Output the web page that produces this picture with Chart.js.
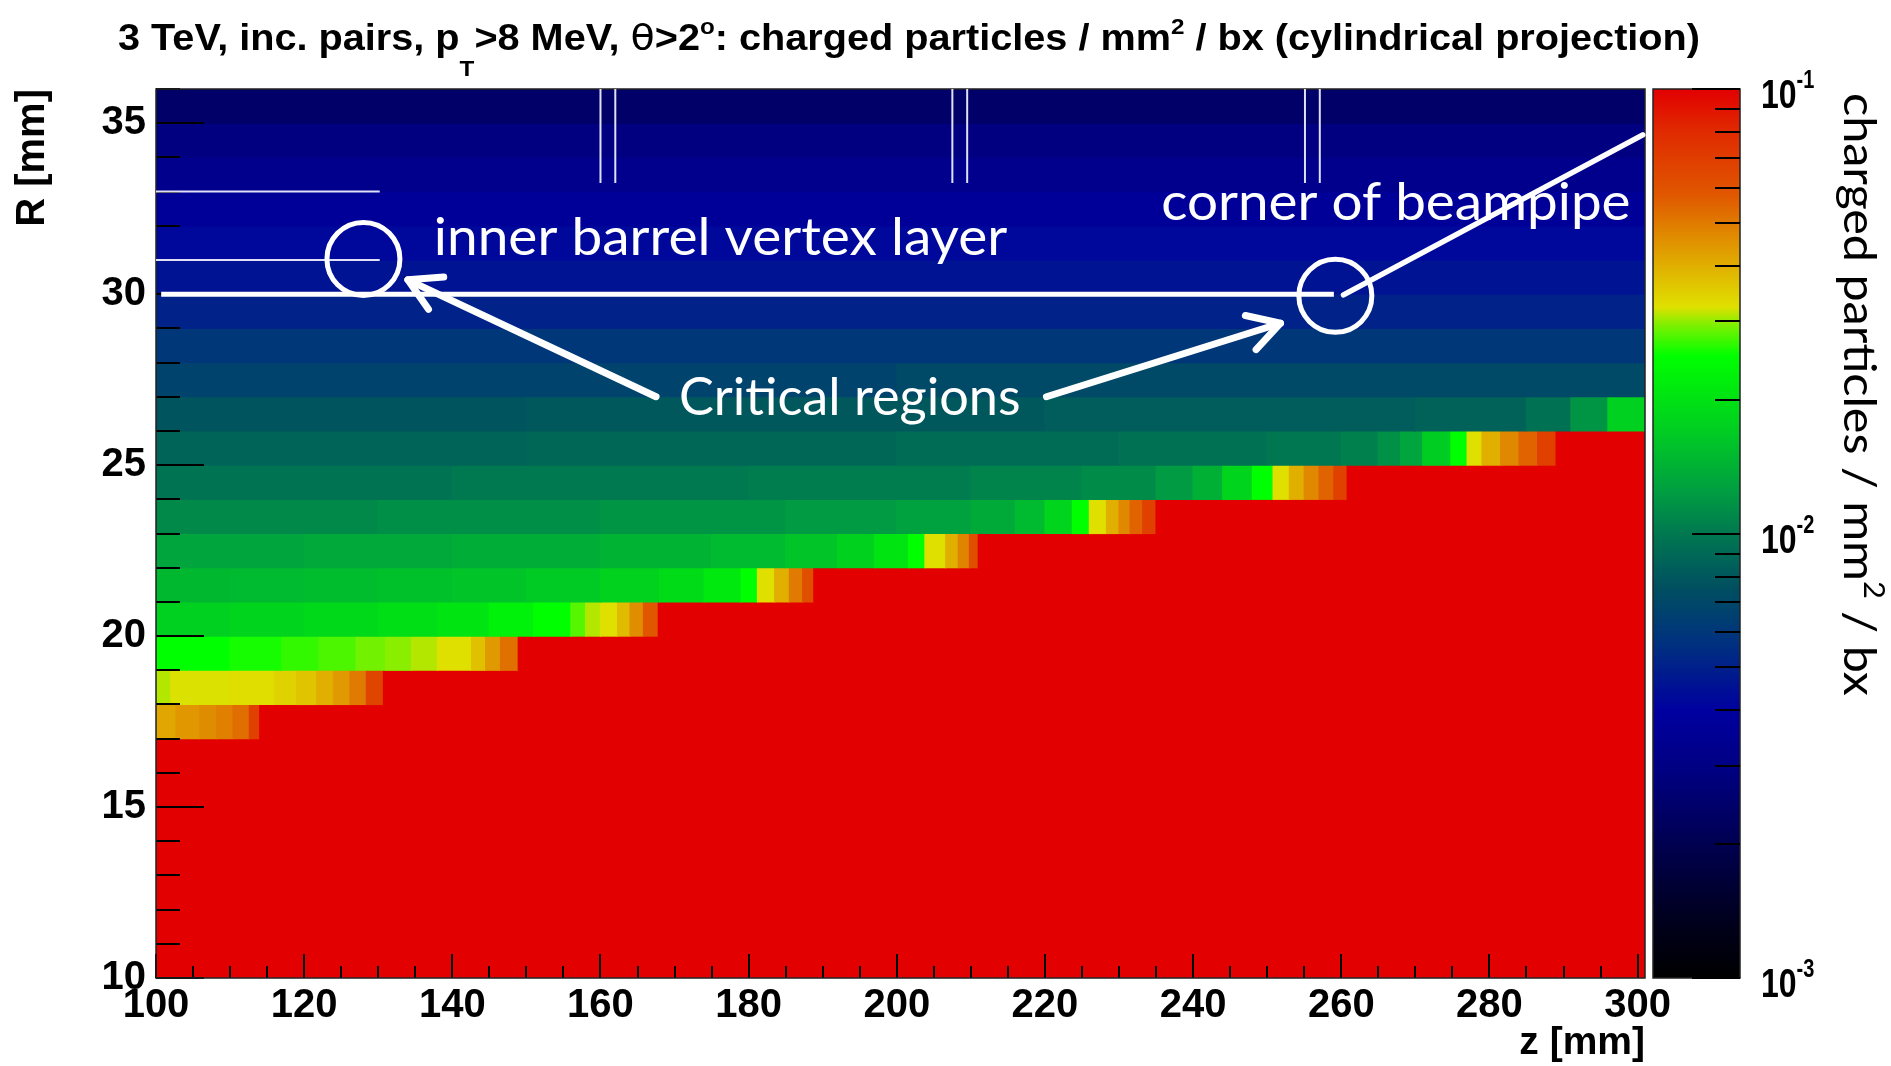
<!DOCTYPE html>
<html>
<head>
<meta charset="utf-8">
<script src="https://cdn.jsdelivr.net/npm/chart.js@4.4.1/dist/chart.umd.min.js"></script>
<style>
html,body{margin:0;padding:0;background:#ffffff;}
#wrap{width:1891px;height:1066px;position:relative;overflow:hidden;}
canvas{display:block;}
</style>
</head>
<body>
<div id="wrap"><canvas id="c" width="1891" height="1066"></canvas></div>
<script>
// ---------------- DATA ----------------
const zRange = [100, 301];
const rRange = [10, 36];
const xTickValues = [100, 120, 140, 160, 180, 200, 220, 240, 260, 280, 300];
const yTickValues = [10, 15, 20, 25, 30, 35];
const colorbarRange = [0.001, 0.1];
const colorbarMajor = [0.001, 0.01, 0.1];
const colorbarLabels = [["10", "-3"], ["10", "-2"], ["10", "-1"]];
const OVER = 1; // above colour scale (beam-pipe shadow, drawn red)

// R bins (1 mm): each row is a list of [zStart, zEnd, charged particles / mm^2 / bx]
const rowLowEdges = [10,11,12,13,14,15,16,17,18,19,20,21,22,23,24,25,26,27,28,29,30,31,32,33,34,35];
const r10 = [[100, 301, OVER]];
const r11 = [[100, 301, OVER]];
const r12 = [[100, 301, OVER]];
const r13 = [[100, 301, OVER]];
const r14 = [[100, 301, OVER]];
const r15 = [[100, 301, OVER]];
const r16 = [[100, 301, OVER]];
const r17 = [[100,102.7,0.0413],[102.7,105.9,0.0443],[105.9,108.2,0.0465],[108.2,110.4,0.049],[110.4,112.6,0.0525],[112.6,114,0.068],[114,301,OVER]];
const r18 = [[100,102,0.031],[102,110,0.0322],[110,116,0.0328],[116,119,0.0345],[119,121.7,0.0365],[121.7,124,0.04],[124,126.2,0.044],[126.2,128.4,0.05],[128.4,130.7,0.066],[130.7,301,OVER]];
const r19 = [[100,110,0.0251],[110,117,0.0258],[117,122,0.0268],[122,127,0.0276],[127,131,0.029],[131,134.5,0.0298],[134.5,138,0.031],[138,142.6,0.0324],[142.6,144.5,0.037],[144.5,146.5,0.044],[146.5,148.9,0.052],[148.9,301,OVER]];
const r20 = [[100,110,0.0174],[110,120,0.0179],[120,130,0.0186],[130,138,0.0194],[138,145,0.0205],[145,151,0.0225],[151,156,0.0251],[156,158,0.028],[158,160,0.031],[160,162.3,0.0324],[162.3,164,0.038],[164,165.8,0.046],[165.8,167.8,0.058],[167.8,301,OVER]];
const r21 = [[100,110,0.0148],[110,120,0.015],[120,130,0.0153],[130,140,0.0157],[140,150,0.016],[150,160,0.0167],[160,168,0.0177],[168,174,0.019],[174,179,0.0212],[179,181.2,0.0251],[181.2,183.5,0.0324],[183.5,185.5,0.04],[185.5,187.3,0.05],[187.3,188.8,0.062],[188.8,301,OVER]];
const r22 = [[100,120,0.013],[120,140,0.0134],[140,160,0.0138],[160,175,0.0143],[175,185,0.015],[185,192,0.016],[192,197,0.0175],[197,201.6,0.0205],[201.6,203.8,0.0251],[203.8,206.6,0.0324],[206.6,208.3,0.04],[208.3,209.8,0.048],[209.8,211,0.062],[211,301,OVER]];
const r23 = [[100,130,0.011],[130,160,0.0114],[160,185,0.0118],[185,200,0.0122],[200,210,0.0127],[210,216,0.0135],[216,220,0.015],[220,223.7,0.018],[223.7,226,0.0251],[226,228.3,0.0324],[228.3,230,0.04],[230,231.5,0.047],[231.5,233.2,0.055],[233.2,235,0.068],[235,301,OVER]];
const r24 = [[100,140,0.0097],[140,180,0.01],[180,210,0.0103],[210,225,0.0107],[225,235,0.0112],[235,240,0.0122],[240,244,0.014],[244,248,0.018],[248,250.8,0.0251],[250.8,253,0.0324],[253,255,0.04],[255,257,0.047],[257,259,0.055],[259,260.8,0.068],[260.8,301,OVER]];
const r25 = [[100,150,0.0087],[150,200,0.0089],[200,230,0.0092],[230,250,0.0095],[250,260,0.0099],[260,265,0.0105],[265,268,0.0115],[268,271,0.013],[271,274.8,0.017],[274.8,277,0.0251],[277,279,0.0324],[279,281.5,0.04],[281.5,284,0.047],[284,286.5,0.055],[286.5,289,0.068],[289,301,OVER]];
const r26 = [[100,150,0.0078],[150,220,0.008],[220,270,0.0083],[270,285,0.0086],[285,291,0.0095],[291,296,0.0118],[296,301,0.0174]];
const r27 = [[100,200,0.0067],[200,301,0.0071]];
const r28 = [[100,301,0.006]];
const r29 = [[100,301,0.0051]];
const r30 = [[100,301,0.0046]];
const r31 = [[100,301,0.0042]];
const r32 = [[100,301,0.0037]];
const r33 = [[100,301,0.0033]];
const r34 = [[100,301,0.0029]];
const r35 = [[100,301,0.0024]];
const rowSegments = [r10,r11,r12,r13,r14,r15,r16,r17,r18,r19,r20,r21,r22,r23,r24,r25,r26,r27,r28,r29,r30,r31,r32,r33,r34,r35];

// Hand-drawn annotations, in data units (z [mm], R [mm])
const thinMarks = [
  [[100, 33], [130.2, 33]], [[100, 31], [130.2, 31]],
  [[160, 36], [160, 33.25]], [[162, 36], [162, 33.25]],
  [[207.5, 36], [207.5, 33.25]], [[209.5, 36], [209.5, 33.25]],
  [[255.1, 36], [255.1, 33.25]], [[257.1, 36], [257.1, 33.25]]
];
const layerLine = [[100.7, 30], [259, 30]];
const beampipeLine = [[260.3, 29.98], [300.7, 34.66]];
const circleCentres = [[128.0, 31.03], [259.2, 29.95]];
const arrowTails = [[167.5, 27.0], [220.2, 27.0]];
const arrowTips = [[134.0, 30.42], [251.8, 29.15]];
const noteTexts = ["inner barrel vertex layer", "corner of beampipe", "Critical regions"];
const noteStart = [[137.5, 31.15], [235.7, 32.17], [170.6, 26.47]];
const noteEndZ = [214.9, 299.05, 216.7];

// ---------------- COLOUR PALETTE ----------------
const palette = [
  [0.00, '#000000'], [0.07, '#000020'], [0.15, '#000050'], [0.23, '#000080'],
  [0.30, '#0000a0'], [0.375, '#003080'], [0.44, '#005060'], [0.50, '#007850'],
  [0.55, '#00a040'], [0.62, '#00d020'], [0.70, '#00ff00'], [0.735, '#80f000'],
  [0.755, '#e0e000'], [0.83, '#e09000'], [0.88, '#e05800'], [0.955, '#e02800'],
  [1.00, '#e20000']
];
function hex2rgb(h) { return [parseInt(h.substr(1,2),16), parseInt(h.substr(3,2),16), parseInt(h.substr(5,2),16)]; }
const palRGB = palette.map(p => [p[0], hex2rgb(p[1])]);
function colourFor(v) {
  const lo = Math.log10(colorbarRange[0]), hi = Math.log10(colorbarRange[1]);
  let t = (Math.log10(v) - lo) / (hi - lo);
  t = Math.max(0, Math.min(1, t));
  for (let i = 1; i < palRGB.length; i++) {
    if (t <= palRGB[i][0]) {
      const a = palRGB[i-1], b = palRGB[i];
      const f = (t - a[0]) / (b[0] - a[0]);
      const c = a[1].map((ch, k) => Math.round(ch + (b[1][k] - ch) * f));
      return 'rgb(' + c.join(',') + ')';
    }
  }
  const c = palRGB[palRGB.length-1][1];
  return 'rgb(' + c.join(',') + ')';
}

// ---------------- BUILD CELLS ----------------
const cells = [];
const cellColours = [];
rowSegments.forEach((segs, i) => {
  const r0 = rowLowEdges[i];
  segs.forEach(s => {
    cells.push({ y: r0 + 0.5, x: [s[0], s[1]] });
    cellColours.push(colourFor(s[2]));
  });
});

// ---------------- DRAWING HELPERS ----------------
const ROOTFONT = '"Liberation Sans", Arial, Helvetica, sans-serif';
const NOTEFONT = 'Lato, "Open Sans", sans-serif';

function fitText(ctx, text, x, y, width, font) {
  ctx.font = font;
  const w = ctx.measureText(text).width;
  ctx.save();
  ctx.translate(x, y);
  ctx.scale(width / w, 1);
  ctx.fillText(text, 0, 0);
  ctx.restore();
}

function drawRuns(ctx, runs, x, y, targetWidth, sxFixed) {
  let total = 0;
  runs.forEach(r => { ctx.font = r.f; total += ctx.measureText(r.t).width; });
  const sx = sxFixed || (targetWidth / total);
  ctx.save();
  ctx.translate(x, y);
  ctx.scale(sx, 1);
  let cx = 0;
  runs.forEach(r => {
    ctx.font = r.f;
    ctx.fillText(r.t, cx, r.dy || 0);
    cx += ctx.measureText(r.t).width;
  });
  ctx.restore();
}

const overlay = {
  id: 'overlay',
  afterDatasetsDraw(chart) {
    const { ctx, chartArea: ca, scales } = chart;
    const xs = scales.x, ys = scales.y, cb = scales.cb;
    const px = z => xs.getPixelForValue(z);
    const py = r => ys.getPixelForValue(r);
    ctx.save();

    // --- axis tick marks (inward) ---
    ctx.strokeStyle = '#000';
    ctx.lineWidth = 2;
    ctx.beginPath();
    for (let r = rRange[0]; r <= rRange[1]; r++) {
      const len = (r % 5 === 0) ? 48 : 24;
      const yy = Math.round(py(r));
      ctx.moveTo(ca.left, yy); ctx.lineTo(ca.left + len, yy);
    }
    for (let z = 100; z <= 300; z += 5) {
      const len = (z % 20 === 0) ? 24 : 12;
      const xx = Math.round(px(z));
      ctx.moveTo(xx, ca.bottom); ctx.lineTo(xx, ca.bottom - len);
    }
    ctx.stroke();

    // --- frame ---
    ctx.lineWidth = 1.5;
    ctx.strokeStyle = '#222';
    ctx.strokeRect(ca.left, ca.top, ca.right - ca.left, ca.bottom - ca.top);

    // --- colour bar ---
    const cbL = cb.left + 8, cbR = cb.left + 95;
    for (let yy = Math.floor(cb.top); yy < Math.ceil(cb.bottom); yy++) {
      const v = cb.getValueForPixel(yy + 0.5);
      ctx.fillStyle = colourFor(v);
      ctx.fillRect(cbL, yy, cbR - cbL, 1);
    }
    ctx.strokeStyle = '#222';
    ctx.lineWidth = 1.5;
    ctx.strokeRect(cbL, cb.top, cbR - cbL, cb.bottom - cb.top);
    ctx.strokeStyle = '#000';
    ctx.lineWidth = 2;
    ctx.beginPath();
    for (let d = 0.001; d < 0.11; d *= 10) {
      for (let m = 1; m <= 9; m++) {
        const v = d * m;
        if (v > 0.1000001) break;
        const yy = Math.round(cb.getPixelForValue(v));
        const len = (m === 1) ? 48 : 25;
        ctx.moveTo(cbR, yy); ctx.lineTo(cbR - len, yy);
      }
    }
    ctx.stroke();

    // colour bar labels 10^n
    ctx.fillStyle = '#000';
    ctx.textBaseline = 'alphabetic';
    ctx.textAlign = 'left';
    colorbarMajor.forEach((v, i) => {
      const yy = cb.getPixelForValue(v);
      drawRuns(ctx, [
        { t: colorbarLabels[i][0], f: 'bold 40px ' + ROOTFONT },
        { t: colorbarLabels[i][1], f: 'bold 25px ' + ROOTFONT, dy: -20 }
      ], cb.left + 116, yy + 19, 0, 0.8);
    });

    // colour bar title (rotated)
    ctx.save();
    ctx.translate(cb.left + 199, cb.top + 4);
    ctx.rotate(Math.PI / 2);
    ctx.fillStyle = '#000';
    drawRuns(ctx, [
      { t: 'charged particles / mm', f: '44px ' + NOTEFONT },
      { t: '2', f: '28px ' + NOTEFONT, dy: -20 },
      { t: ' / bx', f: '44px ' + NOTEFONT }
    ], 0, 0, 603);
    ctx.restore();

    // --- chart title ---
    ctx.fillStyle = '#000';
    const tf = 'bold 36px ' + ROOTFONT;
    const sf = 'bold 22px ' + ROOTFONT;
    drawRuns(ctx, [
      { t: '3 TeV, inc. pairs, p', f: tf },
      { t: 'T', f: sf, dy: 26 },
      { t: '>8 MeV, ', f: tf },
      { t: 'θ', f: '36px "DejaVu Sans", sans-serif' },
      { t: '>2', f: tf },
      { t: 'o', f: sf, dy: -16 },
      { t: ': charged particles / mm', f: tf },
      { t: '2', f: sf, dy: -16 },
      { t: ' / bx (cylindrical projection)', f: tf }
    ], 118, 50, 1582);

    // --- white annotations ---
    ctx.save();
    ctx.beginPath();
    ctx.rect(ca.left, ca.top, ca.right - ca.left + 2, ca.bottom - ca.top);
    ctx.clip();
    ctx.strokeStyle = 'rgba(235,235,255,0.95)';
    ctx.lineWidth = 2;
    ctx.beginPath();
    thinMarks.forEach(seg => {
      ctx.moveTo(px(seg[0][0]), py(seg[0][1]));
      ctx.lineTo(px(seg[1][0]), py(seg[1][1]));
    });
    ctx.stroke();
    ctx.strokeStyle = '#ffffff';
    ctx.lineWidth = 5;
    ctx.beginPath();
    ctx.moveTo(px(layerLine[0][0]), py(layerLine[0][1]));
    ctx.lineTo(px(layerLine[1][0]), py(layerLine[1][1]));
    ctx.stroke();
    ctx.lineWidth = 5.5;
    ctx.lineCap = 'round';
    ctx.beginPath();
    ctx.moveTo(px(beampipeLine[0][0]), py(beampipeLine[0][1]));
    ctx.lineTo(px(beampipeLine[1][0]), py(beampipeLine[1][1]));
    ctx.stroke();
    ctx.lineWidth = 5;
    circleCentres.forEach(c => {
      ctx.beginPath();
      ctx.arc(px(c[0]), py(c[1]), 36.5, 0, Math.PI * 2);
      ctx.stroke();
    });
    ctx.lineWidth = 7;
    ctx.lineJoin = 'round';
    arrowTails.forEach((t, i) => {
      const x0 = px(t[0]), y0 = py(t[1]);
      const x1 = px(arrowTips[i][0]), y1 = py(arrowTips[i][1]);
      const ang = Math.atan2(y0 - y1, x0 - x1);
      ctx.beginPath();
      ctx.moveTo(x0, y0); ctx.lineTo(x1, y1);
      ctx.stroke();
      ctx.beginPath();
      ctx.moveTo(x1 + 36 * Math.cos(ang + 0.52), y1 + 36 * Math.sin(ang + 0.52));
      ctx.lineTo(x1, y1);
      ctx.lineTo(x1 + 36 * Math.cos(ang - 0.52), y1 + 36 * Math.sin(ang - 0.52));
      ctx.stroke();
    });
    ctx.fillStyle = '#ffffff';
    ctx.textBaseline = 'alphabetic';
    ctx.textAlign = 'left';
    noteTexts.forEach((txt, i) => {
      const x0 = px(noteStart[i][0]), y0 = py(noteStart[i][1]);
      const w = px(noteEndZ[i]) - x0;
      fitText(ctx, txt, x0, y0, w, '53px ' + NOTEFONT);
    });
    ctx.restore();

    ctx.restore();
  }
};

Chart.defaults.font.family = ROOTFONT;
Chart.defaults.color = '#000';

new Chart(document.getElementById('c').getContext('2d'), {
  type: 'bar',
  data: {
    datasets: [{
      data: cells,
      backgroundColor: cellColours,
      borderWidth: 0,
      barPercentage: 1,
      categoryPercentage: 1,
      grouped: false,
      inflateAmount: 0.6
    }]
  },
  options: {
    indexAxis: 'y',
    responsive: false,
    animation: false,
    devicePixelRatio: 1,
    layout: { padding: { top: 89, left: 0, right: 0, bottom: 0 } },
    plugins: { legend: { display: false }, tooltip: { enabled: false }, title: { display: false } },
    scales: {
      x: {
        type: 'linear', position: 'bottom', min: zRange[0], max: zRange[1],
        grid: { display: false, drawTicks: false, tickLength: 0 },
        border: { display: false },
        afterBuildTicks: s => { s.ticks = xTickValues.map(v => ({ value: v })); },
        ticks: { autoSkip: false, maxRotation: 0, padding: 4, color: '#000', font: { size: 40, weight: 'bold' } },
        title: { display: true, text: 'z [mm]', align: 'end', color: '#000', font: { size: 39, weight: 'bold', lineHeight: 1 }, padding: { top: 0, bottom: 3 } },
        afterFit: s => { s.height = 88; }
      },
      y: {
        type: 'linear', position: 'left', min: rRange[0], max: rRange[1], offset: false,
        grid: { display: false, drawTicks: false, tickLength: 0 },
        border: { display: false },
        afterBuildTicks: s => { s.ticks = yTickValues.map(v => ({ value: v })); },
        ticks: { autoSkip: false, padding: 10, color: '#000', font: { size: 40, weight: 'bold' } },
        title: { display: true, text: 'R [mm]', align: 'end', color: '#000', font: { size: 40, weight: 'bold', lineHeight: 1 }, padding: { top: 13, bottom: 0 } },
        afterFit: s => { s.width = 156; }
      },
      cb: {
        type: 'logarithmic', axis: 'y', position: 'right', min: colorbarRange[0], max: colorbarRange[1],
        grid: { display: false, drawTicks: false }, border: { display: false },
        ticks: { display: false },
        afterFit: s => { s.width = 246; }
      }
    }
  },
  plugins: [overlay]
});
</script>
</body>
</html>
